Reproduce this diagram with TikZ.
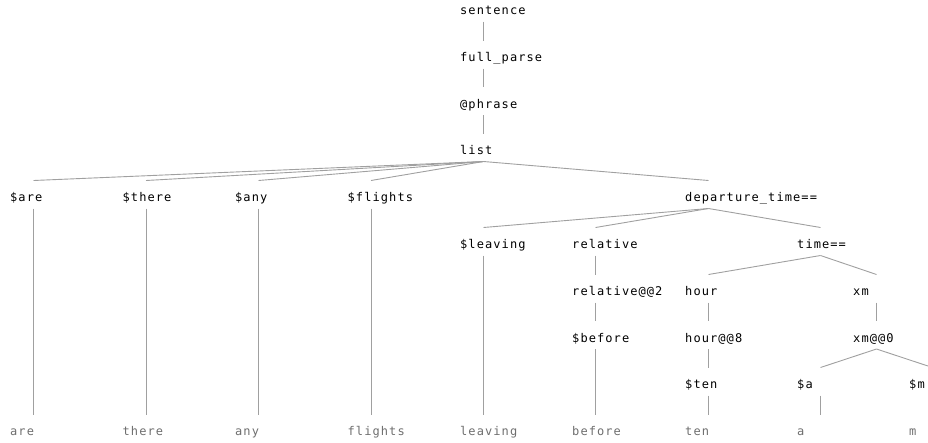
\documentclass[tikz,border=0pt]{standalone}
\usepackage{fontspec}
\usetikzlibrary{calc}
\newfontfamily\treefont[LetterSpace=9]{DejaVu Sans Mono}
\definecolor{edgegray}{RGB}{160,160,160}
\definecolor{leafgray}{RGB}{110,110,110}
\tikzset{
  lbl/.style={anchor=base west, inner sep=0pt, font=\treefont\fontsize{12}{14}\selectfont, text=black},
  leaf/.style={lbl, text=leafgray},
  edgeline/.style={draw=edgegray, line width=0.9pt}
}
\newcommand\tedge[2]{\draw[edgeline] ($(#1.base west)+(23.5,7)$) -- ($(#2.base west)+(23.5,-21)$);}
\begin{document}
\begin{tikzpicture}[x=1pt,y=-1pt]
\useasboundingbox (0,0) rectangle (928,442);
\clip (0,0) rectangle (928,442);
% rows (baseline = row centre + 4.5)
\node[lbl] (sentence) at (460,14.5) {sentence};
\node[lbl] (fullparse) at (460,61.5) {full\_parse};
\node[lbl] (phrase) at (460,108) {@phrase};
\node[lbl] (list) at (460,154.5) {list};
\node[lbl] (sare) at (10,201.5) {\$are};
\node[lbl] (sthere) at (122.5,201.5) {\$there};
\node[lbl] (sany) at (235,201.5) {\$any};
\node[lbl] (sflights) at (347.5,201.5) {\$flights};
\node[lbl] (dep) at (685,201.5) {departure\_time==};
\node[lbl] (sleaving) at (460,248.5) {\$leaving};
\node[lbl] (relative) at (572,248.5) {relative};
\node[lbl] (time) at (797,248.5) {time==};
\node[lbl] (relative2) at (572,295.5) {relative@@2};
\node[lbl] (hour) at (685,295.5) {hour};
\node[lbl] (xm) at (853,295.5) {xm};
\node[lbl] (sbefore) at (572,342) {\$before};
\node[lbl] (hour8) at (685,342) {hour@@8};
\node[lbl] (xm0) at (853,342) {xm@@0};
\node[lbl] (sten) at (685,388.5) {\$ten};
\node[lbl] (sa) at (797,388.5) {\$a};
\node[lbl] (sm) at (909,388.5) {\$m};
\node[leaf] (are) at (10,435.5) {are};
\node[leaf] (there) at (122.5,435.5) {there};
\node[leaf] (any) at (235,435.5) {any};
\node[leaf] (flights) at (347.5,435.5) {flights};
\node[leaf] (leaving) at (460,435.5) {leaving};
\node[leaf] (before) at (572,435.5) {before};
\node[leaf] (ten) at (685,435.5) {ten};
\node[leaf] (a) at (797,435.5) {a};
\node[leaf] (m) at (909,435.5) {m};
% edges
\tedge{sentence}{fullparse}
\tedge{fullparse}{phrase}
\tedge{phrase}{list}
\tedge{list}{sare}
\tedge{list}{sthere}
\tedge{list}{sany}
\tedge{list}{sflights}
\tedge{list}{dep}
\tedge{dep}{sleaving}
\tedge{dep}{relative}
\tedge{dep}{time}
\tedge{relative}{relative2}
\tedge{relative2}{sbefore}
\tedge{time}{hour}
\tedge{time}{xm}
\tedge{hour}{hour8}
\tedge{hour8}{sten}
\tedge{xm}{xm0}
\tedge{xm0}{sa}
\tedge{xm0}{sm}
\tedge{sare}{are}
\tedge{sthere}{there}
\tedge{sany}{any}
\tedge{sflights}{flights}
\tedge{sleaving}{leaving}
\tedge{sbefore}{before}
\tedge{sten}{ten}
\tedge{sa}{a}
\tedge{sm}{m}
\end{tikzpicture}
\end{document}
